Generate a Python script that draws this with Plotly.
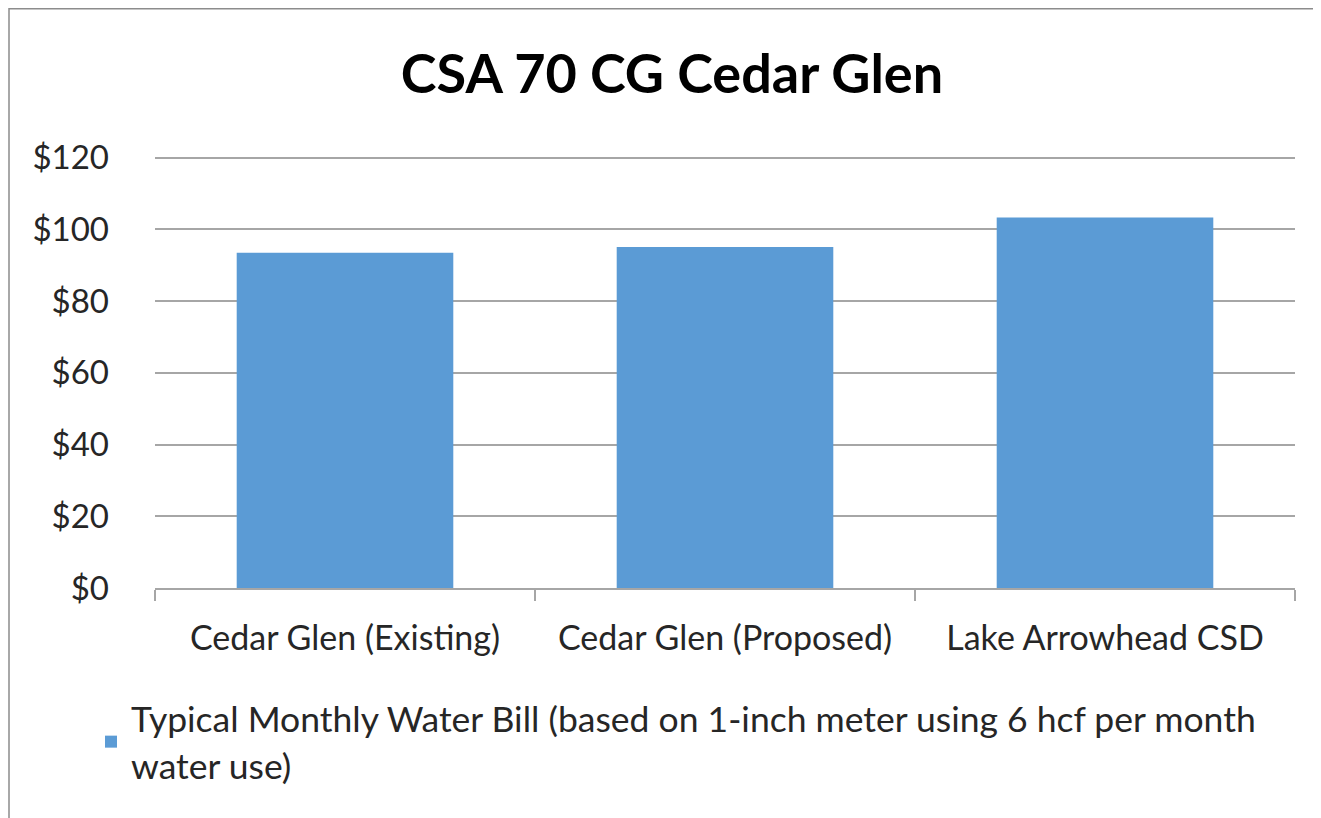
import plotly.graph_objects as go

categories = ["Cedar Glen (Existing)", "Cedar Glen (Proposed)", "Lake Arrowhead CSD"]
values = [93.5, 95.1, 103.3]
series_name = "Typical Monthly Water Bill (based on 1-inch meter using 6 hcf per month<br>water use)"
tick_vals = [0, 20, 40, 60, 80, 100, 120]
tick_text = ["$0", "$20", "$40", "$60", "$80", "$100", "$120"]

FONT = "Lato"
# the page adds an 8px body margin, so the figure is drawn 8px smaller
W, H = 1313, 810
L, R, T, B = 147, 26, 146, 230

fig = go.Figure()
fig.add_trace(go.Bar(
    x=categories, y=values, name=series_name,
    marker=dict(color="#5B9BD5", line=dict(width=0)),
    showlegend=True,
))

pw = W - L - R
ph = H - T - B

bx0 = (1 - L) / pw
bx1 = (W + 20 - L) / pw
by0 = -(H + 20 - (H - B)) / ph
by1 = (H - B - 0.75) / ph

fig.update_layout(
    width=W, height=H,
    margin=dict(l=L, r=R, t=T, b=B, autoexpand=False),
    paper_bgcolor="white", plot_bgcolor="white",
    bargap=0.43,
    title=dict(text="<b>CSA 70 CG Cedar Glen</b>", x=664 / W, xanchor="center",
               y=1 - 66 / H, yanchor="middle",
               font=dict(family=FONT, size=54, color="black")),
    font=dict(family=FONT, color="#262626"),
    xaxis=dict(showgrid=False, showline=True, linecolor="#a6a6a6", linewidth=1.5,
               ticks="outside", tickson="boundaries", ticklen=11, tickcolor="#a6a6a6",
               tickwidth=1.5, tickfont=dict(size=34, color="#262626"), ticklabelstandoff=19),
    yaxis=dict(range=[0, 121], tickvals=tick_vals, ticktext=tick_text,
               showgrid=True, gridcolor="#a6a6a6", gridwidth=1.5, zeroline=False,
               showline=False, ticks="", tickfont=dict(size=33, color="#262626"),
               ticklabelstandoff=45),
    legend=dict(x=(83 - L) / pw, xanchor="left", y=-(681 - (H - B)) / ph, yanchor="top",
                font=dict(size=35.5, color="#262626"), bgcolor="rgba(0,0,0,0)",
                itemwidth=30, tracegroupgap=0),
    shapes=[dict(type="path", xref="paper", yref="paper",
                 path=f"M {bx0},{by0} L {bx0},{by1} L {bx1},{by1}",
                 line=dict(color="#8c8c8c", width=1.5), layer="below")],
)

fig.write_html("out.html")
